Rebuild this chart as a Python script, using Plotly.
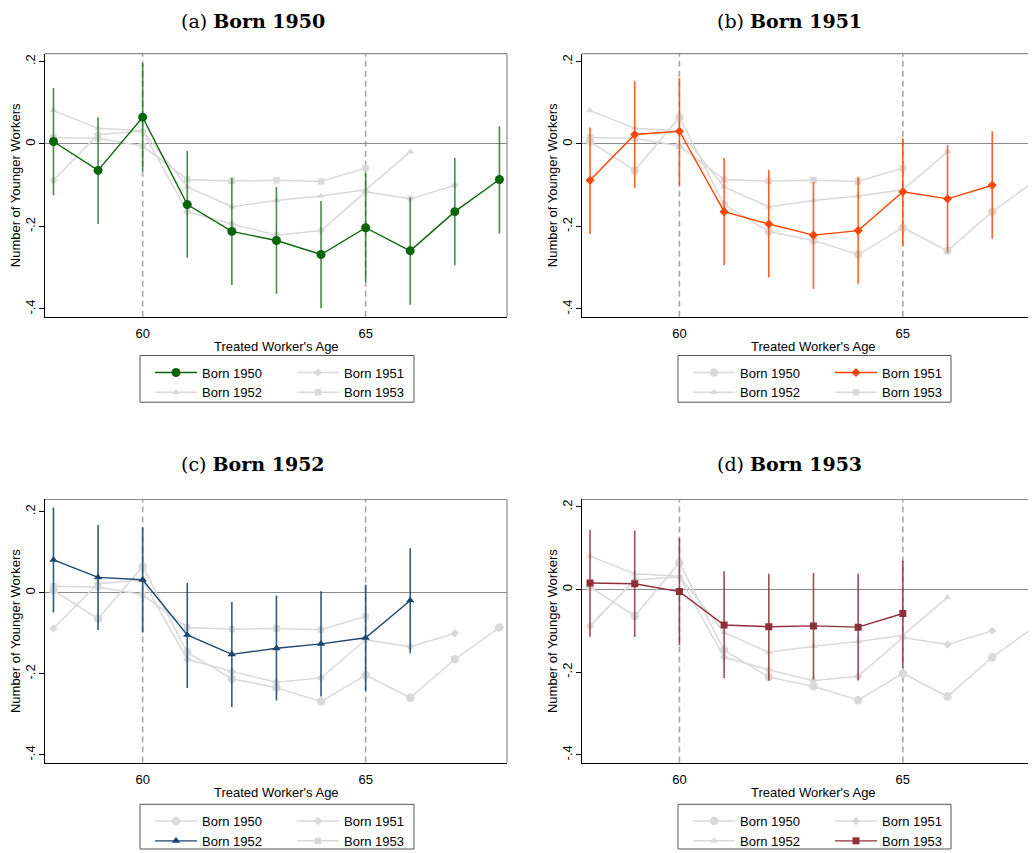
import plotly.graph_objects as go

# ---------------- data ----------------
ages_1950 = [58, 59, 60, 61, 62, 63, 64, 65, 66, 67, 68]
coef_1950 = [0.006, -0.064, 0.065, -0.147, -0.212, -0.234, -0.268, -0.203, -0.259, -0.164, -0.086]
lo_1950 = [-0.124, -0.194, -0.066, -0.276, -0.342, -0.363, -0.398, -0.334, -0.390, -0.294, -0.217]
hi_1950 = [0.136, 0.065, 0.196, -0.017, -0.082, -0.104, -0.138, -0.071, -0.130, -0.034, 0.043]

ages_1951 = [58, 59, 60, 61, 62, 63, 64, 65, 66, 67]
coef_1951 = [-0.088, 0.023, 0.031, -0.164, -0.194, -0.221, -0.210, -0.116, -0.133, -0.100]
lo_1951 = [-0.218, -0.107, -0.100, -0.294, -0.324, -0.351, -0.339, -0.246, -0.263, -0.230]
hi_1951 = [0.040, 0.152, 0.160, -0.034, -0.063, -0.092, -0.080, 0.014, -0.003, 0.031]

ages_1952 = [58, 59, 60, 61, 62, 63, 64, 65, 66]
coef_1952 = [0.081, 0.038, 0.032, -0.104, -0.152, -0.137, -0.126, -0.111, -0.019]
lo_1952 = [-0.049, -0.092, -0.098, -0.235, -0.282, -0.266, -0.256, -0.242, -0.149]
hi_1952 = [0.210, 0.167, 0.161, 0.024, -0.023, -0.007, 0.004, 0.020, 0.110]

ages_1953 = [58, 59, 60, 61, 62, 63, 64, 65]
coef_1953 = [0.016, 0.014, -0.005, -0.086, -0.090, -0.088, -0.091, -0.058]
lo_1953 = [-0.114, -0.115, -0.135, -0.215, -0.220, -0.218, -0.220, -0.190]
hi_1953 = [0.145, 0.143, 0.124, 0.044, 0.038, 0.040, 0.038, 0.070]

cohorts = [1950, 1951, 1952, 1953]
panel_letters = ["a", "b", "c", "d"]
y_ticks = [-0.4, -0.2, 0, 0.2]
y_tick_text = ["-.4", "-.2", "0", ".2"]
x_ticks = [60, 65]
ref_ages = [60, 65]

series = {
    1950: (ages_1950, coef_1950, lo_1950, hi_1950),
    1951: (ages_1951, coef_1951, lo_1951, hi_1951),
    1952: (ages_1952, coef_1952, lo_1952, hi_1952),
    1953: (ages_1953, coef_1953, lo_1953, hi_1953),
}

# ---------------- styles ----------------
OFFX, OFFY = 8, 5            # where the figure lands inside the browser page
W, H = 1036 - OFFX, 853 - OFFY
colors = {1950: "#0a640a", 1951: "#ff4500", 1952: "#1a476f", 1953: "#8c2f39"}
bar_colors = {1950: "rgba(10,100,10,0.75)", 1951: "rgba(255,69,0,0.85)",
              1952: "rgba(26,71,111,0.9)", 1953: "rgba(140,47,57,0.85)"}
symbols = {1950: "circle", 1951: "diamond", 1952: "triangle-up", 1953: "square"}
msize = {1950: 9, 1951: 7, 1952: 7.5, 1953: 7}
GRAY = "#d9d9d9"
SANS = "Liberation Sans, Arial, sans-serif"
SERIF = "DejaVu Serif, serif"

def px(x):
    return (x - OFFX) / W

def py(y):
    return 1 - (y - OFFY) / H

# panel geometry in page pixels: left, right, top, bottom, xrange, yrange
panels = [
    dict(l=45, r=507, t=51, b=316, xr=[57.81, 68.17], yr=[-0.419, 0.219]),
    dict(l=582, r=1036, t=51, b=316, xr=[57.82, 67.98], yr=[-0.419, 0.219]),
    dict(l=45, r=507, t=500, b=765, xr=[57.81, 68.17], yr=[-0.419, 0.230]),
    dict(l=582, r=1036, t=500, b=765, xr=[57.82, 67.98], yr=[-0.419, 0.218]),
]
# title anchors (top edge of the text box) in page pixels
title_pos = [(253, OFFY), (789, OFFY), (253, 451), (789, 451)]
legend_box = [(140, 355, 414, 402), (678, 355, 951, 402),
              (140, 807, 414, 852), (678, 807, 951, 852)]

fig = go.Figure()
layout = dict(
    width=W, height=H,
    margin=dict(l=0, r=0, t=0, b=0),
    paper_bgcolor="white", plot_bgcolor="white",
    showlegend=True,
    font=dict(family=SANS, size=13, color="black"),
)
shapes = []
annotations = []

for i, (cohort, letter, p) in enumerate(zip(cohorts, panel_letters, panels)):
    n = i + 1
    xa = "x" if n == 1 else f"x{n}"
    ya = "y" if n == 1 else f"y{n}"
    xkey = "xaxis" if n == 1 else f"xaxis{n}"
    ykey = "yaxis" if n == 1 else f"yaxis{n}"
    leg1 = "legend" if n == 1 else f"legend{2 * n - 1}"
    leg2 = f"legend{2 * n}"

    # gray cohorts first, highlighted cohort last (on top)
    order = [c for c in cohorts if c != cohort] + [cohort]
    for c in order:
        ages, coef, lo, hi = series[c]
        highlight = c == cohort
        legend_id = leg1 if c in (1950, 1952) else leg2
        col = colors[c] if highlight else GRAY
        tr = go.Scatter(
            x=ages, y=coef, mode="lines+markers", name=f"Born {c}",
            xaxis=xa, yaxis=ya, legend=legend_id, legendrank=c,
            line=dict(color=col, width=1.4 if highlight else 1.5),
            marker=dict(symbol=symbols[c], size=msize[c] if highlight else msize[c] - 0.5,
                        color=col, line=dict(width=0)),
            hoverinfo="x+y+name",
        )
        if highlight:
            tr.error_y = dict(type="data", symmetric=False,
                              array=[h - v for h, v in zip(hi, coef)],
                              arrayminus=[v - l for v, l in zip(coef, lo)],
                              color=bar_colors[c], thickness=1.6, width=0)
        fig.add_trace(tr)

    right = min(p["r"], 1036)
    layout[xkey] = dict(
        domain=[px(p["l"]), px(right)], range=p["xr"], anchor=ya,
        tickvals=x_ticks, ticktext=[str(t) for t in x_ticks],
        showgrid=False, zeroline=False, showline=True, linecolor="black", linewidth=1,
        ticks="", ticklabelstandoff=5,
        tickfont=dict(family=SANS, size=13, color="black"),
    )
    layout[ykey] = dict(
        domain=[py(p["b"]), py(p["t"])], range=p["yr"], anchor=xa,
        tickvals=y_ticks, ticktext=y_tick_text, tickangle=-90,
        showgrid=False, zeroline=True, zerolinecolor="#8a8a8a", zerolinewidth=1,
        showline=True, linecolor="black", linewidth=1,
        ticks="outside", ticklen=5, tickcolor="black", tickwidth=1,
        ticklabelstandoff=-1,
        tickfont=dict(family=SANS, size=13, color="black"),
    )

    # gray top / right frame
    shapes.append(dict(type="line", xref=f"{xa} domain", yref=f"{ya} domain",
                       x0=0, x1=1, y0=1, y1=1, line=dict(color="#8a8a8a", width=1.2)))
    if p["r"] < 1036:
        shapes.append(dict(type="line", xref=f"{xa} domain", yref=f"{ya} domain",
                           x0=1, x1=1, y0=0, y1=1, line=dict(color="#8a8a8a", width=1.2)))
    # dashed reference ages
    for a in ref_ages:
        shapes.append(dict(type="line", xref=xa, yref=f"{ya} domain", x0=a, x1=a, y0=0, y1=1,
                           line=dict(color="#a6a6a6", width=1.6, dash="6px,4px"), layer="below"))

    # titles
    tx, ty = title_pos[i]
    annotations.append(dict(text=f"({letter}) <b>Born {cohort}</b>", x=px(tx), y=py(ty),
                            xref="paper", yref="paper", xanchor="center", yanchor="top",
                            showarrow=False, font=dict(family=SERIF, size=19, color="black")))
    # axis titles
    annotations.append(dict(text="Number of Younger Workers", x=px(p["l"] - 30),
                            y=py((p["t"] + p["b"]) / 2), xref="paper", yref="paper",
                            xanchor="center", yanchor="middle", textangle=-90, showarrow=False,
                            font=dict(family=SANS, size=13, color="black")))
    annotations.append(dict(text="Treated Worker's Age", x=px((p["l"] + p["l"] + 462) / 2),
                            y=py(p["b"] + 30), xref="paper", yref="paper",
                            xanchor="center", yanchor="middle", showarrow=False,
                            font=dict(family=SANS, size=13, color="black")))

    # legend box + two legend columns
    bl, bt, br, bb = legend_box[i]
    shapes.append(dict(type="rect", xref="paper", yref="paper",
                       x0=px(bl), x1=px(br), y0=py(bb), y1=py(bt),
                       line=dict(color="#555555", width=1), fillcolor="rgba(0,0,0,0)"))
    for lid, dx in ((leg1, 10), (leg2, 152)):
        layout[lid] = dict(
            x=px(bl + dx), y=py(bt + 2), xref="paper", yref="paper",
            xanchor="left", yanchor="top", orientation="v",
            bgcolor="rgba(0,0,0,0)", borderwidth=0, itemwidth=42,
            tracegroupgap=0, traceorder="normal",
            font=dict(family=SANS, size=13, color="black"),
            itemclick=False, itemdoubleclick=False,
        )

layout["shapes"] = shapes
layout["annotations"] = annotations
fig.update_layout(**layout)
fig.write_html("out.html")
